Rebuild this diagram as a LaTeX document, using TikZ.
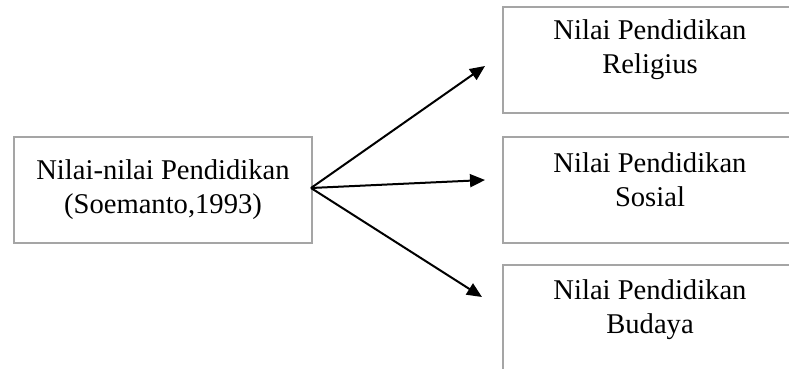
\documentclass[tikz,border=0pt]{standalone}
\usepackage{fontspec}
\setmainfont{Liberation Serif}
\usetikzlibrary{arrows.meta}
\definecolor{boxgray}{RGB}{165,165,165}
\begin{document}
\begin{tikzpicture}[x=1pt,y=-1pt,
  box/.style={draw=boxgray,line width=1.5pt,rectangle,inner sep=0pt,minimum height=106pt},
  leftbox/.style={box,minimum width=298pt,align=center,font=\fontsize{28.6}{34}\selectfont},
  rbox/.style={box,minimum width=294pt},
  txt/.style={align=center,inner sep=0pt,font=\fontsize{28.6}{34}\selectfont},
  arr/.style={draw=black,line width=2pt,-{Triangle[length=15pt,width=13pt]}}]
\useasboundingbox (0,0) rectangle (789,369);
\clip (0,0) rectangle (789,369);
\node[leftbox] (L) at (163,190) {Nilai-nilai Pendidikan\\(Soemanto,1993)};
\node[rbox] (R1) at (650,60) {};
\node[rbox] (R2) at (650,190) {};
\node[rbox] (R3) at (650,318) {};
\node[txt] (T1) at (650,50) {Nilai Pendidikan\\Religius};
\node[txt] (T2) at (650,180) {Nilai Pendidikan\\Sosial};
\node[txt] (T3) at (650,310) {Nilai Pendidikan\\Budaya};
\coordinate (E1) at (485,66);
\coordinate (E2) at (485,180);
\coordinate (E3) at (482,297);
\coordinate (S) at (311,188);
\draw[arr] (S) -- (E1);
\draw[arr] (S) -- (E2);
\draw[arr] (S) -- (E3);
\end{tikzpicture}
\end{document}
